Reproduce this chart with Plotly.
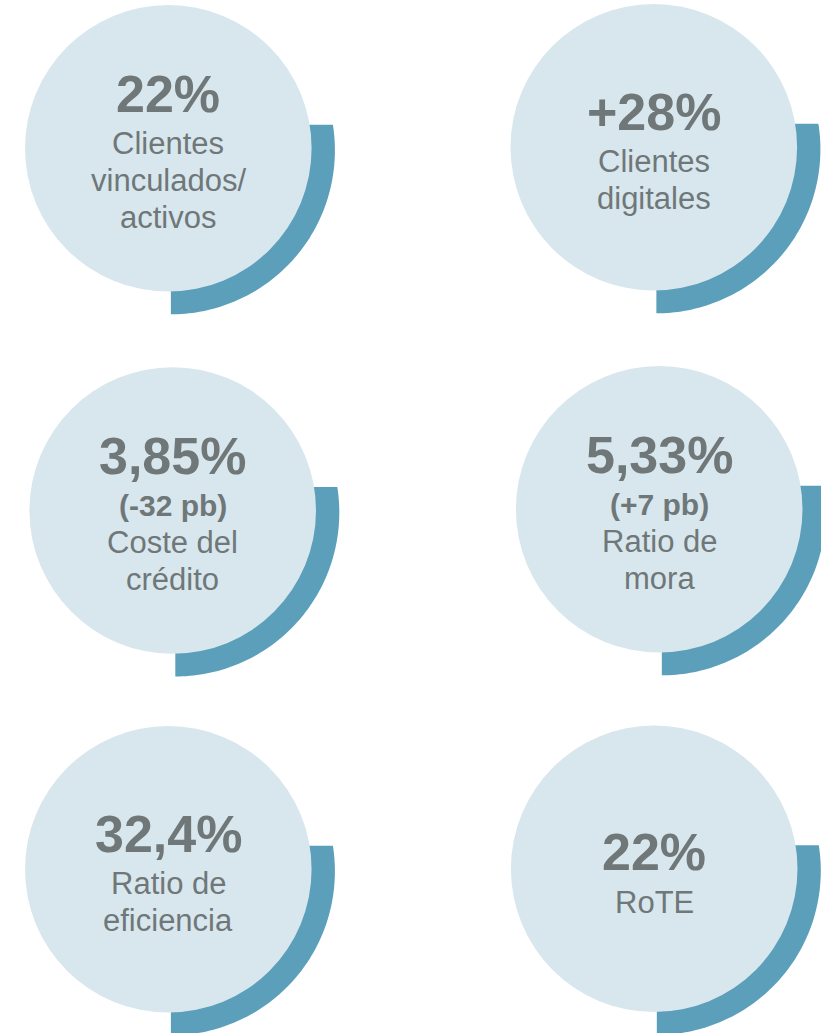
import numpy as np
import plotly.graph_objects as go

# ---- data ----
values = ["22%", "+28%", "3,85%", "5,33%", "32,4%", "22%"]
changes = ["", "", "(-32 pb)", "(+7 pb)", "", ""]
labels = [
    ["Clientes", "vinculados/", "activos"],
    ["Clientes", "digitales"],
    ["Coste del", "crédito"],
    ["Ratio de", "mora"],
    ["Ratio de", "eficiencia"],
    ["RoTE"],
]

# ---- layout constants ----
W, H = 821, 1033
CENTERS = [(168.3, 148.3), (653.8, 147.3), (172.7, 510.5),
           (659.2, 509.3), (168.3, 869.3), (654.2, 868.8)]
R_CIRCLE = 143.3
R_ARC = 164
ARC_OFF = (2.6, 2.0)
ARC_TOP = 25.5
CIRCLE_COLOR = "#d8e7ee"
ARC_COLOR = "#5b9fba"
TEXT_COLOR = "#6f7778"
FONT = "Arial, Liberation Sans, sans-serif"

fig = go.Figure()
shapes = []
annotations = []

for i, (cx, cy) in enumerate(CENTERS):
    # arc (wedge behind circle)
    wx, wy = cx + ARC_OFF[0], cy + ARC_OFF[1]
    top_y = wy - ARC_TOP
    a0 = np.arcsin(ARC_TOP / R_ARC)
    angs = np.linspace(a0, -np.pi / 2, 80)
    pts = [(wx, top_y)]
    pts += [(wx + R_ARC * np.cos(a), wy - R_ARC * np.sin(a)) for a in angs]
    path = "M " + " L ".join(f"{x:.2f},{y:.2f}" for x, y in pts) + " Z"
    shapes.append(dict(type="path", path=path, xref="x", yref="y",
                       fillcolor=ARC_COLOR, line=dict(width=0), layer="above"))
    shapes.append(dict(type="circle", xref="x", yref="y",
                       x0=cx - R_CIRCLE, x1=cx + R_CIRCLE,
                       y0=cy - R_CIRCLE, y1=cy + R_CIRCLE,
                       fillcolor=CIRCLE_COLOR, line=dict(width=0), layer="above"))

    sub = ([changes[i]] if changes[i] else []) + labels[i]
    n = len(sub)
    y_num = cy - 16.6 - 19.0 * (n - 1)
    annotations.append(dict(x=cx, y=y_num, xref="x", yref="y", text=f"<b>{values[i]}</b>",
                            showarrow=False, xanchor="center", yanchor="middle",
                            font=dict(family=FONT, size=52, color=TEXT_COLOR)))
    for k, line in enumerate(sub):
        is_change = bool(changes[i]) and k == 0
        txt = f"<b>{line}</b>" if is_change else line
        annotations.append(dict(x=cx, y=y_num + 50 + 37 * k, xref="x", yref="y", text=txt,
                                showarrow=False, xanchor="center", yanchor="middle",
                                font=dict(family=FONT, size=31 if not is_change else 30,
                                          color=TEXT_COLOR)))

fig.update_layout(
    width=W, height=H,
    margin=dict(l=0, r=0, t=0, b=0),
    paper_bgcolor="white", plot_bgcolor="white",
    xaxis=dict(range=[0, W], visible=False, fixedrange=True),
    yaxis=dict(range=[H, 0], visible=False, fixedrange=True),
    shapes=shapes, annotations=annotations,
    showlegend=False,
)

fig.write_html("out.html", config={"displayModeBar": False},
               post_script="document.body.style.margin='0px';document.body.style.overflow='hidden';")
